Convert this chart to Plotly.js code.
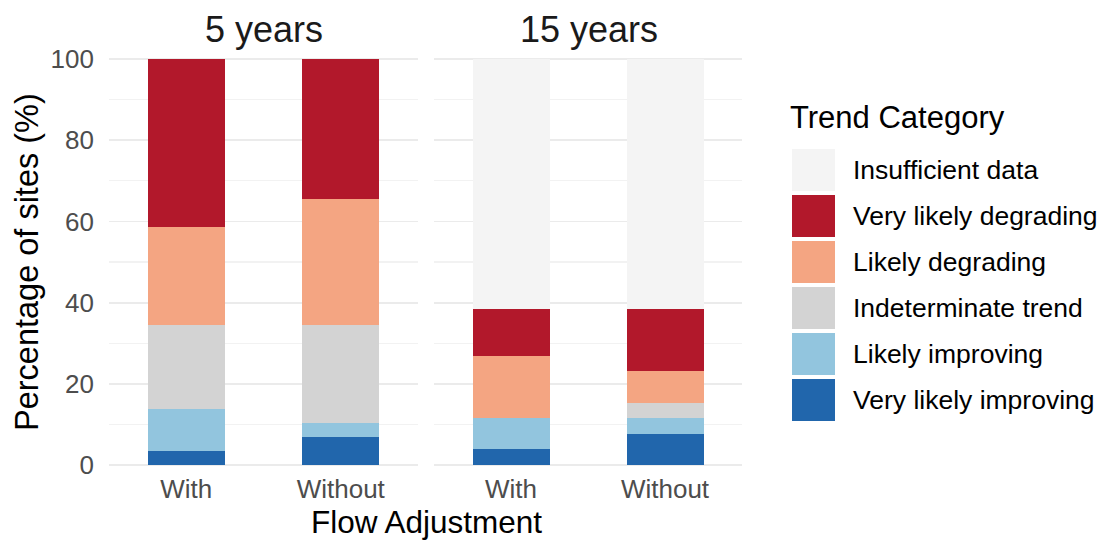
<!DOCTYPE html>
<html>
<head>
<meta charset="utf-8">
<script src="https://cdn.plot.ly/plotly-3.0.1.min.js"></script>
<style>html,body{margin:0;padding:0;background:#fff;}#chart{width:1100px;height:540px;}</style>
</head>
<body>
<div id="chart"></div>
<script>
// ---- data ----
const flowAdjustment = ['With', 'Without'];
const periods = ['5 years', '15 years'];
const trendCategories = ['Very likely improving', 'Likely improving', 'Indeterminate trend', 'Likely degrading', 'Very likely degrading', 'Insufficient data'];
const trendColors = ['#2166ac', '#92c5de', '#d3d3d3', '#f4a582', '#b2182b', '#f4f4f4'];
// percentages, [With, Without]
const years5_veryLikelyImproving = [3.45, 6.90];
const years5_likelyImproving = [10.34, 3.45];
const years5_indeterminate = [20.69, 24.14];
const years5_likelyDegrading = [24.14, 31.03];
const years5_veryLikelyDegrading = [41.38, 34.48];
const years5_insufficient = [0, 0];
const years15_veryLikelyImproving = [3.85, 7.69];
const years15_likelyImproving = [7.69, 3.85];
const years15_indeterminate = [0, 3.85];
const years15_likelyDegrading = [15.38, 7.69];
const years15_veryLikelyDegrading = [11.54, 15.38];
const years15_insufficient = [61.54, 61.54];
const yTicks = [0, 20, 40, 60, 80, 100];

const series5 = [years5_veryLikelyImproving, years5_likelyImproving, years5_indeterminate, years5_likelyDegrading, years5_veryLikelyDegrading, years5_insufficient];
const series15 = [years15_veryLikelyImproving, years15_likelyImproving, years15_indeterminate, years15_likelyDegrading, years15_veryLikelyDegrading, years15_insufficient];

// ---- layout helpers ----
const W = 1100, H = 540;
const px = v => v / W;
const py = v => 1 - v / H;
const FONT = 'Liberation Sans, Arial, Helvetica, sans-serif';

const traces = [];
[series5, series15].forEach((series, p) => {
  series.forEach((vals, i) => {
    traces.push({
      type: 'bar',
      x: flowAdjustment,
      y: vals,
      name: trendCategories[i],
      marker: {color: trendColors[i], line: {width: 0}},
      width: 0.5,
      xaxis: p === 0 ? 'x' : 'x2',
      yaxis: p === 0 ? 'y' : 'y2',
      showlegend: false,
      hoverinfo: 'skip'
    });
  });
});

const yRange = [-1, 101];
const yTop = 59 - 4.06, yBot = 465 + 4.06;
const xAxisBase = {
  type: 'category', range: [-0.5, 1.5], showgrid: false, zeroline: false, showline: false,
  ticks: '', tickfont: {family: FONT, size: 26, color: '#4d4d4d'}, ticklabelstandoff: 2,
  fixedrange: true
};
const yAxisBase = {
  range: yRange, tickvals: yTicks, showgrid: true, gridcolor: '#ebebeb', gridwidth: 1.8,
  zeroline: false, showline: false, ticks: '',
  minor: {dtick: 10, tick0: 0, showgrid: true, gridcolor: '#f2f2f2', gridwidth: 1.1},
  domain: [py(yBot), py(yTop)], fixedrange: true
};

const layout = {
  width: W, height: H,
  margin: {l: 0, r: 0, t: 0, b: 0},
  paper_bgcolor: '#ffffff', plot_bgcolor: 'rgba(0,0,0,0)',
  barmode: 'stack', bargap: 0,
  showlegend: false,
  font: {family: FONT},
  xaxis: Object.assign({}, xAxisBase, {domain: [px(109), px(418)], anchor: 'y'}),
  xaxis2: Object.assign({}, xAxisBase, {domain: [px(434), px(742)], anchor: 'y2'}),
  yaxis: Object.assign({}, yAxisBase, {anchor: 'x', tickfont: {family: FONT, size: 26, color: '#4d4d4d'}, ticklabelstandoff: 14}),
  yaxis2: Object.assign({}, yAxisBase, {anchor: 'x2', showticklabels: false}),
  shapes: [],
  annotations: []
};

// facet titles and axis titles
layout.annotations.push(
  {text: periods[0], x: px(263.5), y: py(29.5), xref: 'paper', yref: 'paper', showarrow: false, xanchor: 'center', yanchor: 'middle', font: {family: FONT, size: 36, color: '#1a1a1a'}},
  {text: periods[1], x: px(588.5), y: py(29.5), xref: 'paper', yref: 'paper', showarrow: false, xanchor: 'center', yanchor: 'middle', font: {family: FONT, size: 36, color: '#1a1a1a'}},
  {text: 'Flow Adjustment', x: px(426), y: py(522), xref: 'paper', yref: 'paper', showarrow: false, xanchor: 'center', yanchor: 'middle', font: {family: FONT, size: 31.5, color: '#000000'}},
  {text: 'Percentage of sites (%)', x: px(27), y: py(262), xref: 'paper', yref: 'paper', showarrow: false, textangle: -90, xanchor: 'center', yanchor: 'middle', font: {family: FONT, size: 32.5, color: '#000000'}},
  {text: 'Trend Category', x: px(788), y: py(117), xref: 'paper', yref: 'paper', showarrow: false, xanchor: 'left', yanchor: 'middle', font: {family: FONT, size: 31, color: '#000000'}}
);

// legend (top: Insufficient data ... bottom: Very likely improving)
const legendOrder = trendCategories.slice().reverse();
const legendColors = trendColors.slice().reverse();
legendOrder.forEach((name, i) => {
  const top = 149 + 46 * i;
  layout.shapes.push({type: 'rect', xref: 'paper', yref: 'paper', x0: px(792), x1: px(835), y0: py(top + 42), y1: py(top), fillcolor: legendColors[i], line: {width: 0}});
  layout.annotations.push({text: name, x: px(851), y: py(top + 21), xref: 'paper', yref: 'paper', showarrow: false, xanchor: 'left', yanchor: 'middle', font: {family: FONT, size: 26.5, color: '#000000'}});
});

Plotly.newPlot('chart', traces, layout, {staticPlot: true, displayModeBar: false});
</script>
</body>
</html>
